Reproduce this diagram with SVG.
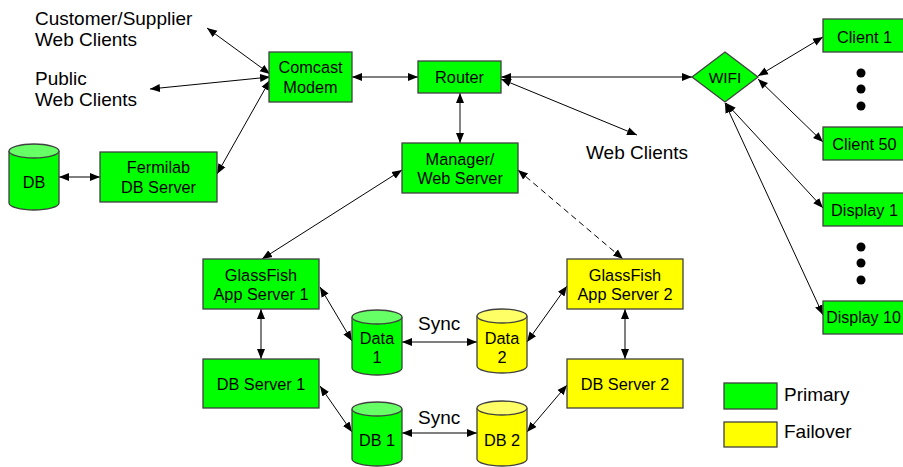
<svg xmlns="http://www.w3.org/2000/svg" width="903" height="467" viewBox="0 0 903 467">
<style>
text{font-family:"Liberation Sans",Arial,sans-serif;fill:#000}
.bt{font-size:16.3px;text-anchor:middle}
.lt{font-size:19px}
.g{fill:#00ff00;stroke:#404040;stroke-width:1.3}
.y{fill:#ffff00;stroke:#404040;stroke-width:1.3}
.gt{fill:#66ff66;stroke:#404040;stroke-width:1.3}
.yt{fill:#ffff66;stroke:#404040;stroke-width:1.3}
.c{stroke:#000;stroke-width:1;fill:none;marker-start:url(#ah);marker-end:url(#ah)}
.d{stroke-dasharray:6,4}
.gr{stroke:#666;stroke-width:1.6}
</style>
<defs>
<marker id="ah" viewBox="0 0 10 10" refX="10" refY="5" markerWidth="10" markerHeight="10" markerUnits="userSpaceOnUse" orient="auto-start-reverse">
<path d="M0,1 L10,5 L0,9 Z" fill="#000"/>
</marker>
</defs>
<rect width="903" height="467" fill="#fff"/>
<g id="labels">
<text class="lt" x="35" y="25">Customer/Supplier</text>
<text class="lt" x="35" y="46">Web Clients</text>
<text class="lt" x="35" y="85">Public</text>
<text class="lt" x="35" y="106">Web Clients</text>
<text class="lt" x="586" y="159">Web Clients</text>
<text class="lt" x="418" y="330">Sync</text>
<text class="lt" x="418" y="424">Sync</text>
</g>
<g id="connectors">
<line class="c" x1="207" y1="28" x2="270" y2="74"/>
<line class="c" x1="150" y1="89" x2="270" y2="77"/>
<line class="c" x1="217" y1="174" x2="270" y2="80"/>
<line class="c" x1="59" y1="177" x2="100" y2="177"/>
<line class="c" x1="352" y1="77" x2="418" y2="77"/>
<line class="c gr" x1="460" y1="93" x2="460" y2="143"/>
<line class="c" x1="501" y1="77" x2="692" y2="77"/>
<line class="c" x1="501" y1="79" x2="637" y2="135"/>
<line class="c" x1="758" y1="76" x2="823" y2="37"/>
<line class="c" x1="758" y1="79" x2="823" y2="142"/>
<line class="c" x1="726" y1="103" x2="823" y2="208"/>
<line class="c" x1="725" y1="103" x2="823" y2="315"/>
<line class="c" x1="402" y1="170" x2="262" y2="259"/>
<line class="c d" x1="518" y1="170" x2="623" y2="259"/>
<line class="c" x1="261" y1="309" x2="261" y2="359"/>
<line class="c" x1="625" y1="309" x2="625" y2="359"/>
<line class="c" x1="320" y1="287" x2="352" y2="341"/>
<line class="c" x1="320" y1="386" x2="352" y2="432"/>
<line class="c" x1="567" y1="286" x2="527" y2="342"/>
<line class="c" x1="567" y1="385" x2="527" y2="432"/>
<line class="c" x1="402" y1="342" x2="477" y2="342"/>
<line class="c" x1="402" y1="433" x2="477" y2="433"/>
</g>
<g id="db">
<path class="g" d="M9,151 v52 a25,7 0 0 0 50,0 v-52"/>
<ellipse class="gt" cx="34" cy="151" rx="25" ry="7"/>
<text class="bt" x="34" y="188">DB</text>
</g>
<g id="fermilab">
<rect class="g" x="100" y="152" width="117" height="50"/>
<text class="bt" x="158.5" y="173">Fermilab</text>
<text class="bt" x="158.5" y="193">DB Server</text>
</g>
<g id="modem">
<rect class="g" x="269" y="52" width="83" height="50"/>
<text class="bt" x="310.5" y="73">Comcast</text>
<text class="bt" x="310.5" y="93">Modem</text>
</g>
<g id="router">
<rect class="g" x="418" y="61" width="83" height="32"/>
<text class="bt" x="459.5" y="83">Router</text>
</g>
<g id="manager">
<rect class="g" x="402" y="143" width="116" height="50"/>
<text class="bt" x="460" y="165">Manager/</text>
<text class="bt" x="460" y="184">Web Server</text>
</g>
<g id="wifi">
<polygon class="g" points="692,77 725,52 758,77 725,102"/>
<text class="bt" x="725" y="83" style="font-size:15.5px">WIFI</text>
</g>
<g id="client1">
<rect class="g" x="823" y="19" width="84" height="33"/>
<text class="bt" x="864.5" y="43">Client 1</text>
</g>
<g id="dots1">
<circle cx="861" cy="73" r="4.5"/>
<circle cx="861" cy="89" r="4.5"/>
<circle cx="861" cy="106" r="4.5"/>
</g>
<g id="client50">
<rect class="g" x="823" y="127" width="84" height="33"/>
<text class="bt" x="864.5" y="150">Client 50</text>
</g>
<g id="display1">
<rect class="g" x="823" y="193" width="84" height="33"/>
<text class="bt" x="864.5" y="216">Display 1</text>
</g>
<g id="dots2">
<circle cx="861" cy="247" r="4.5"/>
<circle cx="861" cy="263" r="4.5"/>
<circle cx="861" cy="280" r="4.5"/>
</g>
<g id="display10">
<rect class="g" x="823" y="301" width="84" height="33"/>
<text class="bt" x="863.5" y="323" style="font-size:16px">Display 10</text>
</g>
<g id="app1">
<rect class="g" x="203" y="259" width="116" height="50"/>
<text class="bt" x="261" y="281">GlassFish</text>
<text class="bt" x="261" y="300">App Server 1</text>
</g>
<g id="dbserver1">
<rect class="g" x="203" y="359" width="116" height="49"/>
<text class="bt" x="261" y="390">DB Server 1</text>
</g>
<g id="data1">
<path class="g" d="M352,317 v51 a25,7 0 0 0 50,0 v-51"/>
<ellipse class="gt" cx="377" cy="317" rx="25" ry="7"/>
<text class="bt" x="377" y="344">Data</text>
<text class="bt" x="377" y="363">1</text>
</g>
<g id="db1">
<path class="g" d="M352,409 v50 a25,7 0 0 0 50,0 v-50"/>
<ellipse class="gt" cx="377" cy="409" rx="25" ry="7"/>
<text class="bt" x="377" y="446">DB 1</text>
</g>
<g id="data2">
<path class="y" d="M477,316 v50 a25,7 0 0 0 50,0 v-50"/>
<ellipse class="yt" cx="502" cy="316" rx="25" ry="7"/>
<text class="bt" x="502" y="344">Data</text>
<text class="bt" x="502" y="363">2</text>
</g>
<g id="db2">
<path class="y" d="M477,408 v51 a25,7 0 0 0 50,0 v-51"/>
<ellipse class="yt" cx="502" cy="408" rx="25" ry="7"/>
<text class="bt" x="502" y="446">DB 2</text>
</g>
<g id="app2">
<rect class="y" x="567" y="259" width="116" height="50"/>
<text class="bt" x="625" y="281">GlassFish</text>
<text class="bt" x="625" y="300">App Server 2</text>
</g>
<g id="dbserver2">
<rect class="y" x="567" y="359" width="116" height="49"/>
<text class="bt" x="625" y="390">DB Server 2</text>
</g>
<g id="legend">
<rect class="g" x="724" y="383" width="53" height="26"/>
<text class="lt" x="784" y="401">Primary</text>
<rect class="y" x="724" y="422" width="53" height="25"/>
<text class="lt" x="784" y="438">Failover</text>
</g>
</svg>
